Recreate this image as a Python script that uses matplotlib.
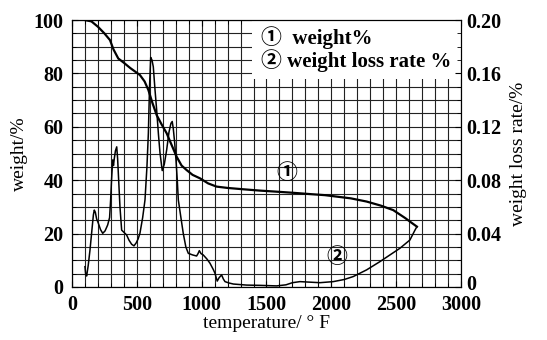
import matplotlib
matplotlib.use("Agg")
import matplotlib.pyplot as plt
from matplotlib.patches import Rectangle
from matplotlib.ticker import MultipleLocator
from matplotlib.transforms import ScaledTranslation

plt.rcParams['font.family'] = ['Liberation Serif', 'Noto Sans CJK SC', 'DejaVu Sans']
plt.rcParams['font.weight'] = 'bold'

# curve 1: weight %
temp_w = [100, 150, 200, 250, 293, 320, 357, 400, 450, 524, 560, 589, 620, 653,
          690, 730, 770, 807, 845, 884, 930, 987, 1050, 1115, 1200, 1321, 1450,
          1578, 1700, 1835, 1950, 2050, 2150, 2272, 2380, 2477, 2570, 2620, 2660]
weight = [100, 99.5, 97.5, 95, 92.5, 89, 85.6, 84, 82, 79.4, 77, 73.8, 69, 64.4,
          61, 57.6, 53, 48.8, 45.5, 43.8, 42, 40.7, 38.8, 37.6, 37.1, 36.6, 36.1,
          35.7, 35.3, 34.8, 34.4, 33.8, 33.2, 32.0, 30.5, 28.8, 25.8, 24.0, 22.6]

# curve 2: weight loss rate %
temp_r = [100, 105, 113, 125, 139, 155, 165, 172, 180, 190, 203, 220, 237, 255,
          275, 290, 298, 305, 314, 320, 326, 335, 345, 352, 360, 370, 383, 400,
          421, 440, 460, 478, 495, 510, 524, 545, 563, 578, 589, 598, 607, 617,
          627, 640, 653, 667, 679, 696, 712, 730, 748, 763, 773, 781, 792, 802,
          812, 820, 840, 858, 878, 897, 930, 961, 972, 982, 995, 1012, 1040, 1064,
          1090, 1103, 1112, 1120, 1135, 1154, 1167, 1180, 1210, 1244, 1347, 1450,
          1578, 1650, 1700, 1758, 1835, 1912, 2015, 2100, 2169, 2272, 2375, 2452,
          2529, 2606, 2645, 2660]
rate = [0.0152, 0.010, 0.0082, 0.016, 0.0278, 0.044, 0.054, 0.0576, 0.056, 0.051,
        0.0478, 0.043, 0.0402, 0.042, 0.0464, 0.052, 0.0652, 0.080, 0.0952, 0.091,
        0.096, 0.102, 0.105, 0.096, 0.080, 0.060, 0.0426, 0.041, 0.039, 0.035,
        0.032, 0.0308, 0.033, 0.036, 0.0402, 0.052, 0.0652, 0.090, 0.1152, 0.150,
        0.172, 0.170, 0.165, 0.148, 0.1326, 0.114, 0.1002, 0.0872, 0.092, 0.1026,
        0.116, 0.1226, 0.124, 0.1188, 0.108, 0.0952, 0.080, 0.0652, 0.052, 0.0402,
        0.030, 0.0252, 0.024, 0.0232, 0.025, 0.0272, 0.025, 0.024, 0.021, 0.0178,
        0.013, 0.0102, 0.007, 0.0044, 0.007, 0.009, 0.006, 0.004, 0.003, 0.0022,
        0.0014, 0.0012, 0.0008, 0.0016, 0.0032, 0.004, 0.0036, 0.0032, 0.004,
        0.0056, 0.0078, 0.0128, 0.019, 0.024, 0.029, 0.0352, 0.0426, 0.0452]

rate_ticks = [0, 0.04, 0.08, 0.12, 0.16, 0.20]
rate_labels = ['0', '0.04', '0.08', '0.12', '0.16', '0.20']

fig = plt.figure(figsize=(5.47, 3.40), dpi=100)
ax = fig.add_axes([0.1316, 0.156, 0.7112, 0.785])
ax2 = ax.twinx()

ax.set_xlim(0, 3000)
ax.set_ylim(0, 100)
ax2.set_ylim(0, 0.20)

ax.xaxis.set_major_locator(MultipleLocator(500))
ax.xaxis.set_minor_locator(MultipleLocator(100))
ax.yaxis.set_major_locator(MultipleLocator(20))
ax.yaxis.set_minor_locator(MultipleLocator(5))
ax2.yaxis.set_minor_locator(MultipleLocator(0.01))

ax.set_axisbelow(True)
ax.grid(True, which='both', color='#222222', linewidth=0.8, zorder=0)

# white box behind the legend text
ax.add_patch(Rectangle((1385, 78), 1615, 22, facecolor='white', edgecolor='none', zorder=1.5))

ax.plot(temp_w, weight, color='black', linewidth=1.6, zorder=3)
ax2.plot(temp_r, rate, color='black', linewidth=1.1, zorder=3)

ax.tick_params(which='both', direction='in', labelsize=14.5, top=True)
ax.tick_params(which='major', length=4)
ax.tick_params(which='minor', length=3)
ax.tick_params(axis='x', pad=6)
ax.tick_params(axis='y', pad=6)
ax2.tick_params(which='both', direction='in', labelsize=14.5, pad=4)
ax2.tick_params(which='major', length=4)
ax2.tick_params(which='minor', length=3)
ax2.set_yticks(rate_ticks)
ax2.set_yticklabels(rate_labels)
# nudge the right-hand "0" up a little, away from "3000"
zero_lbl = ax2.get_yticklabels()[0]
zero_lbl.set_transform(zero_lbl.get_transform() + ScaledTranslation(0, 3 / 72, fig.dpi_scale_trans))

ax.set_xlabel('temperature/ ° F', fontsize=14, labelpad=0)
ax.set_ylabel('weight/%', fontsize=14, labelpad=4)
ax2.set_ylabel('weight loss rate/%', fontsize=14, labelpad=6)

ax.text(1460, 93.5, '①  weight%', fontsize=15, va='center', zorder=4)
ax.text(1460, 85, '② weight loss rate %', fontsize=15, va='center', zorder=4)
ax.text(1660, 42.5, '①', fontsize=15, ha='center', va='center', zorder=4)
ax.text(2040, 11, '②', fontsize=15, ha='center', va='center', zorder=4)

fig.savefig('out.png', dpi=100)
